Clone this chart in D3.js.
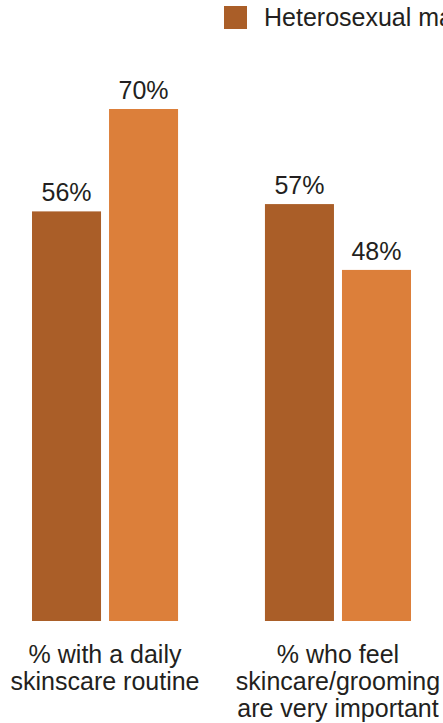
<!DOCTYPE html>
<head>
  <meta charset="utf-8">
  <style>
    body {margin: 0; background: #fff;}
    svg {display: block; font-family: "Liberation Sans", Arial, Helvetica, sans-serif;}
    .val, .cat, .legend text {fill: #231f20;}
  </style>
</head>
<body>
  <svg width="443" height="723"></svg>
  <script src="https://cdnjs.cloudflare.com/ajax/libs/d3/7.8.5/d3.min.js"></script>
  <script>
    // chart data
    var categories = ["% with a daily|skinscare routine", "% who feel|skincare/grooming|are very important"];
    var seriesNames = ["Heterosexual males", "Gay/bisexual males"];
    var heteroValues = [56, 57];
    var gayValues = [70, 48];

    var svg = d3.select("svg");

    var colors = d3.scaleOrdinal().domain(seriesNames).range(["#aa5e28", "#dc7f3a"]);

    // outer band per category, inner band per series
    var x0 = d3.scaleBand().domain(categories).range([32, 411]).paddingInner(0.373).paddingOuter(0);
    var x1 = d3.scaleBand().domain(seriesNames).range([0, x0.bandwidth()]).paddingInner(0.104);

    var y = d3.scaleLinear().domain([0, 70]).range([621, 109]);

    var rows = categories.map(function(c, i) {
      return {cat: c, values: [
        {name: seriesNames[0], v: heteroValues[i]},
        {name: seriesNames[1], v: gayValues[i]}
      ]};
    });

    var group = svg.selectAll(".grp")
        .data(rows)
      .enter().append("g")
        .attr("class", "grp")
        .attr("transform", function(d) { return "translate(" + x0(d.cat) + ",0)"; });

    group.selectAll("rect")
        .data(function(d) { return d.values; })
      .enter().append("rect")
        .attr("x", function(d) { return x1(d.name); })
        .attr("width", x1.bandwidth())
        .attr("y", function(d) { return y(d.v); })
        .attr("height", function(d) { return y(0) - y(d.v); })
        .attr("fill", function(d) { return colors(d.name); });

    group.selectAll(".val")
        .data(function(d) { return d.values; })
      .enter().append("text")
        .attr("class", "val")
        .attr("x", function(d) { return x1(d.name) + x1.bandwidth() / 2; })
        .attr("y", function(d) { return y(d.v) - 10; })
        .attr("text-anchor", "middle")
        .attr("font-size", 25)
        .text(function(d) { return d.v + "%"; });

    // category labels, split on "|"
    group.append("text")
        .attr("class", "cat")
        .attr("text-anchor", "middle")
        .attr("font-size", 25)
        .selectAll("tspan")
        .data(function(d) { return d.cat.split("|"); })
      .enter().append("tspan")
        .attr("x", x0.bandwidth() / 2)
        .attr("y", function(d, i) { return 663 + i * 27; })
        .text(function(d) { return d; });

    // legend (only the first entry falls inside the frame)
    var legend = svg.append("g").attr("class", "legend")
      .selectAll("g")
        .data(seriesNames.slice(0, 1))
      .enter().append("g")
        .attr("transform", function(d, i) { return "translate(" + (224 + i * 260) + ",6)"; });

    legend.append("rect")
        .attr("width", 23)
        .attr("height", 23)
        .attr("fill", function(d) { return colors(d); });

    legend.append("text")
        .attr("x", 40)
        .attr("y", 20)
        .attr("font-size", 25)
        .text(function(d) { return d; });
  </script>
</body>
